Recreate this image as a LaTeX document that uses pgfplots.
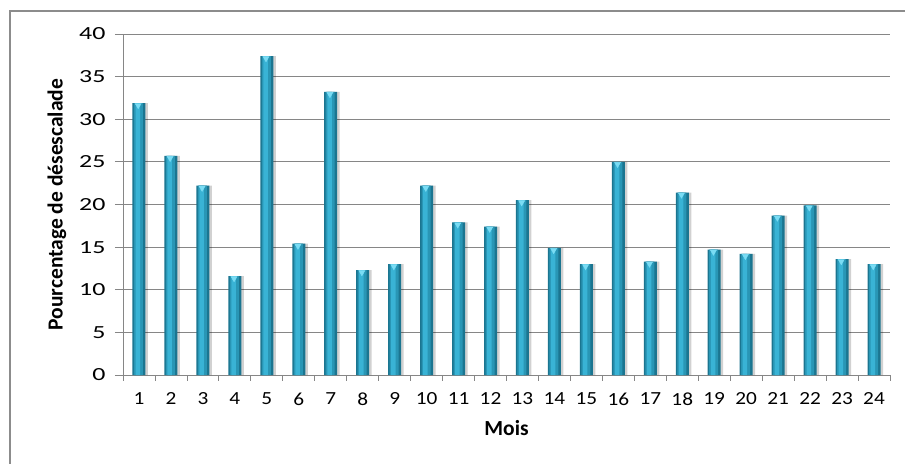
\documentclass[border=0pt]{standalone}
\usepackage{fontspec}
\setmainfont{Carlito}
\usepackage{graphicx}
\usepackage{pgfplots}
\usepackage{pgfplotstable}
\pgfplotsset{compat=1.18}
\definecolor{gridc}{HTML}{868686}
\definecolor{barD}{HTML}{1B7590}
\definecolor{barM}{HTML}{2996B5}
\definecolor{barL}{HTML}{39B3D5}
\definecolor{capc}{HTML}{7ADCF4}
\definecolor{framec}{HTML}{8C8C8C}
\pgfplotstableread{
x y
1 31.9
2 25.7
3 22.2
4 11.6
5 37.4
6 15.4
7 33.2
8 12.3
9 13.0
10 22.2
11 17.9
12 17.4
13 20.5
14 14.9
15 13.0
16 25.0
17 13.3
18 21.4
19 14.7
20 14.2
21 18.7
22 19.9
23 13.6
24 13.0
}\datatable
\begin{document}
\begin{tikzpicture}
\begin{axis}[
  scale only axis,
  width=767bp, height=341bp,
  xmin=0.5, xmax=24.5, ymin=0, ymax=40,
  ybar,
  axis lines*=left,
  axis line style={gridc, line width=0.8bp},
  xtick={1,...,24},
  minor xtick={0.5,1.5,...,24.5},
  major x tick style={draw=none},
  minor x tick style={gridc, line width=0.8bp},
  minor tick length=6bp,
  xtick align=outside,
  ytick={0,5,...,40},
  ytick align=outside,
  major tick length=8bp,
  y tick style={gridc, line width=0.8bp},
  ymajorgrids,
  grid style={gridc, line width=0.8bp},
  xticklabel={\scalebox{1.15}[1]{\pgfmathprintnumber{\tick}}},
  yticklabel={\scalebox{1.4}[1]{\pgfmathprintnumber{\tick}}},
  /pgf/number format/assume math mode=true,
  tick label style={font=\fontsize{18.5bp}{22bp}\selectfont, black},
  xticklabel style={yshift=-6bp},
  yticklabel style={xshift=-6bp},
  xlabel={\bfseries Mois},
  ylabel={\bfseries Pourcentage de désescalade},
  label style={font=\fontsize{21.5bp}{25bp}\selectfont},
  xlabel style={yshift=-8bp},
  ylabel style={yshift=6bp},
  clip=false,
]
\addplot[bar width=13bp, bar shift=2.5bp, draw=none, fill=black, fill opacity=0.18] table[x=x,y=y] {\datatable};
\addplot[bar width=13bp, bar shift=0bp, draw=none, fill=barD] table[x=x,y=y] {\datatable};
\addplot[bar width=9bp, bar shift=-0.5bp, draw=none, fill=barM] table[x=x,y=y] {\datatable};
\addplot[bar width=4.5bp, bar shift=-1.2bp, draw=none, fill=barL] table[x=x,y=y] {\datatable};
\addplot[only marks, mark=triangle*, mark size=3.5bp, mark options={rotate=180, fill=capc, draw=capc, xshift=0.8bp, yshift=2.2bp}] table[x=x,y=y] {\datatable};
\coordinate (O) at (rel axis cs:0,0);
\end{axis}
\draw[framec, line width=1.5bp] ([xshift=-113bp,yshift=-89bp]O) -- ([xshift=-113bp,yshift=364bp]O) -- ([xshift=782bp,yshift=364bp]O);
\pgfresetboundingbox
\path ([xshift=-123bp,yshift=-89bp]O) rectangle ([xshift=782bp,yshift=375bp]O);
\end{tikzpicture}
\end{document}
